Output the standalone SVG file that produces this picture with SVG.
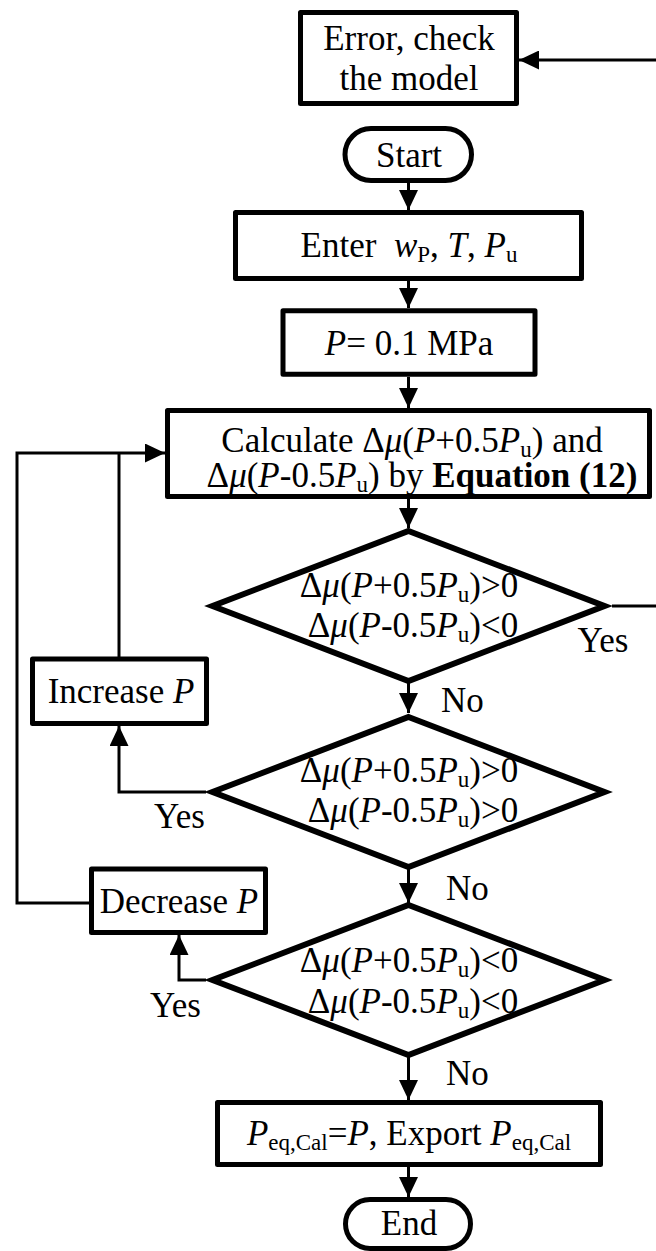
<svg xmlns="http://www.w3.org/2000/svg" width="656" height="1251" viewBox="0 0 656 1251">
<style>
  .box{fill:#fff;stroke:#000;stroke-width:5;stroke-linejoin:round}
  .dia{fill:#fff;stroke:#000;stroke-width:6;stroke-linejoin:miter}
  .con{fill:none;stroke:#000;stroke-width:3}
  text{font-family:"Liberation Serif","Times New Roman",serif;font-size:35px;fill:#000;white-space:pre}
  .c{text-anchor:middle}
  .i{font-style:italic}
  .s{font-size:23px}
  .b{font-weight:bold}
</style>
<defs>
  <marker id="arr" markerUnits="userSpaceOnUse" viewBox="0 0 20 19" refX="20" refY="9.5" markerWidth="20" markerHeight="19" orient="auto">
    <path d="M0,0 L20,9.5 L0,19 Z" fill="#000"/>
  </marker>
</defs>

<g id="connectors">
  <line class="con" x1="656" y1="60" x2="519" y2="60" marker-end="url(#arr)"/>
  <line class="con" x1="408.5" y1="183" x2="408.5" y2="210" marker-end="url(#arr)"/>
  <line class="con" x1="408.5" y1="281" x2="408.5" y2="308" marker-end="url(#arr)"/>
  <line class="con" x1="408.5" y1="377" x2="408.5" y2="408" marker-end="url(#arr)"/>
  <line class="con" x1="408.5" y1="499" x2="408.5" y2="528" marker-end="url(#arr)"/>
  <line class="con" x1="612" y1="606" x2="656" y2="606"/>
  <line class="con" x1="408.5" y1="683" x2="408.5" y2="713" marker-end="url(#arr)"/>
  <path class="con" d="M206,792 H119 V726" marker-end="url(#arr)"/>
  <path class="con" d="M119,657 V453"/>
  <path class="con" d="M90,903 H17 V453 H165" marker-end="url(#arr)"/>
  <line class="con" x1="408.5" y1="869" x2="408.5" y2="903" marker-end="url(#arr)"/>
  <path class="con" d="M206,980 H179 V935" marker-end="url(#arr)"/>
  <line class="con" x1="408.5" y1="1057" x2="408.5" y2="1100" marker-end="url(#arr)"/>
  <line class="con" x1="408.5" y1="1167" x2="408.5" y2="1197" marker-end="url(#arr)"/>
</g>

<g id="error">
  <rect class="box" x="300.5" y="12.5" width="216" height="91"/>
  <text class="c" x="409" y="50">Error, check</text>
  <text class="c" x="409" y="90">the model</text>
</g>

<g id="start">
  <rect class="box" x="345" y="128.5" width="126.5" height="52" rx="26"/>
  <text class="c" x="409" y="167">Start</text>
</g>

<g id="enter">
  <rect class="box" x="235.5" y="212.5" width="346" height="66"/>
  <text class="c" x="409" y="257">Enter  <tspan class="i">w</tspan><tspan class="s" dy="5">P</tspan><tspan dy="-5">, </tspan><tspan class="i">T</tspan>, <tspan class="i">P</tspan><tspan class="s" dy="5">u</tspan></text>
</g>

<g id="pinit">
  <rect class="box" x="283" y="310.8" width="252" height="63.5"/>
  <text class="c" x="409" y="355"><tspan class="i">P</tspan>= 0.1 MPa</text>
</g>

<g id="calc">
  <rect class="box" x="167.5" y="410.5" width="482" height="86"/>
  <text class="c" x="412" y="452">Calculate Δ<tspan class="i">μ</tspan>(<tspan class="i">P</tspan>+0.5<tspan class="i">P</tspan><tspan class="s" dy="5">u</tspan><tspan dy="-5">) and</tspan></text>
  <text class="c" x="422" y="487">Δ<tspan class="i">μ</tspan>(<tspan class="i">P</tspan>-0.5<tspan class="i">P</tspan><tspan class="s" dy="5">u</tspan><tspan dy="-5">) by </tspan><tspan class="b">Equation (12)</tspan></text>
</g>

<g id="d1">
  <polygon class="dia" points="408.5,531 604.5,606 408.5,681 212.5,606"/>
  <text class="c" x="409" y="597">Δ<tspan class="i">μ</tspan>(<tspan class="i">P</tspan>+0.5<tspan class="i">P</tspan><tspan class="s" dy="5">u</tspan><tspan dy="-5">)&gt;0</tspan></text>
  <text class="c" x="413" y="637">Δ<tspan class="i">μ</tspan>(<tspan class="i">P</tspan>-0.5<tspan class="i">P</tspan><tspan class="s" dy="5">u</tspan><tspan dy="-5">)&lt;0</tspan></text>
</g>

<g id="d2">
  <polygon class="dia" points="408.5,717 604.5,792 408.5,867 212.5,792"/>
  <text class="c" x="409" y="782">Δ<tspan class="i">μ</tspan>(<tspan class="i">P</tspan>+0.5<tspan class="i">P</tspan><tspan class="s" dy="5">u</tspan><tspan dy="-5">)&gt;0</tspan></text>
  <text class="c" x="413" y="822">Δ<tspan class="i">μ</tspan>(<tspan class="i">P</tspan>-0.5<tspan class="i">P</tspan><tspan class="s" dy="5">u</tspan><tspan dy="-5">)&gt;0</tspan></text>
</g>

<g id="d3">
  <polygon class="dia" points="408.5,905 604.5,980 408.5,1055 212.5,980"/>
  <text class="c" x="409" y="972">Δ<tspan class="i">μ</tspan>(<tspan class="i">P</tspan>+0.5<tspan class="i">P</tspan><tspan class="s" dy="5">u</tspan><tspan dy="-5">)&lt;0</tspan></text>
  <text class="c" x="413" y="1013">Δ<tspan class="i">μ</tspan>(<tspan class="i">P</tspan>-0.5<tspan class="i">P</tspan><tspan class="s" dy="5">u</tspan><tspan dy="-5">)&lt;0</tspan></text>
</g>

<g id="increase">
  <rect class="box" x="32.5" y="659" width="174" height="64.5"/>
  <text class="c" x="121" y="703">Increase <tspan class="i">P</tspan></text>
</g>

<g id="decrease">
  <rect class="box" x="91.5" y="869" width="174" height="63.5"/>
  <text class="c" x="179" y="913">Decrease <tspan class="i">P</tspan></text>
</g>

<g id="export">
  <rect class="box" x="217.5" y="1102.5" width="383" height="62"/>
  <text class="c" x="409" y="1145"><tspan class="i">P</tspan><tspan class="s" dy="5">eq,Cal</tspan><tspan dy="-5">=</tspan><tspan class="i">P</tspan>, Export <tspan class="i">P</tspan><tspan class="s" dy="5">eq,Cal</tspan></text>
</g>

<g id="end">
  <rect class="box" x="345.5" y="1199.5" width="125" height="49" rx="24.5"/>
  <text class="c" x="409" y="1235">End</text>
</g>

<g id="labels">
  <text class="c" x="603" y="652">Yes</text>
  <text x="441" y="712">No</text>
  <text class="c" x="179.5" y="828">Yes</text>
  <text x="446" y="900">No</text>
  <text class="c" x="175.5" y="1017">Yes</text>
  <text x="446" y="1085">No</text>
</g>
</svg>
